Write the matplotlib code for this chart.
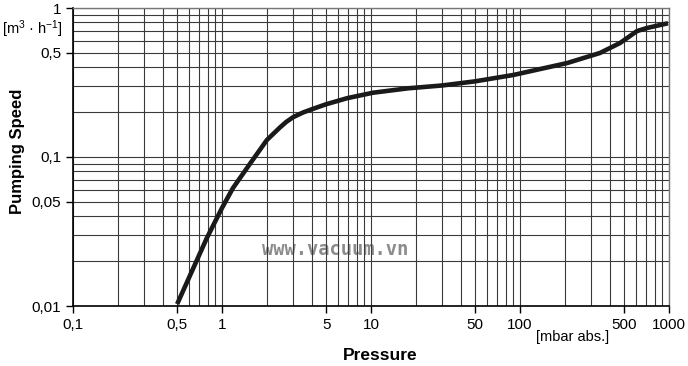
import matplotlib.pyplot as plt
from matplotlib.ticker import FixedLocator, FixedFormatter, LogLocator, NullFormatter

# pressure [mbar abs.] and pumping speed [m3/h]
pressure = [0.5, 0.79, 1.0, 1.185, 1.54, 2.0, 2.45, 2.7, 3.0, 3.5, 4.0, 5.0, 6.9, 10.3,
            17.7, 30, 50, 90, 207, 344, 469, 610, 711, 985]
speed = [0.0103, 0.0285, 0.0455, 0.0619, 0.090, 0.130, 0.158, 0.172, 0.185, 0.199,
         0.209, 0.226, 0.248, 0.270, 0.289, 0.302, 0.322, 0.355, 0.427, 0.499,
         0.582, 0.70, 0.734, 0.79]

x_ticks = [0.1, 0.5, 1, 5, 10, 50, 100, 500, 1000]
x_labels = ["0,1", "0,5", "1", "5", "10", "50", "100", "500", "1000"]
y_ticks = [0.01, 0.05, 0.1, 0.5, 1]
y_labels = ["0,01", "0,05", "0,1", "0,5", "1"]

plt.rcParams['font.family'] = ['Liberation Sans', 'DejaVu Sans']
plt.rcParams['mathtext.default'] = 'regular'

fig = plt.figure(figsize=(6.88, 3.66), dpi=100)
ax = fig.add_axes([73 / 688, 1 - 306 / 366, 596 / 688, 298 / 366])

ax.set_xscale('log')
ax.set_yscale('log')
ax.set_xlim(0.1, 1000)
ax.set_ylim(0.01, 1)

# grid on every 1..9 step of each decade
ax.xaxis.set_minor_locator(LogLocator(base=10, subs=range(1, 10), numticks=20))
ax.yaxis.set_minor_locator(LogLocator(base=10, subs=range(1, 10), numticks=20))
ax.xaxis.set_minor_formatter(NullFormatter())
ax.yaxis.set_minor_formatter(NullFormatter())
ax.grid(True, which='both', color='#3a3a3a', lw=0.8)
ax.tick_params(which='minor', length=0)

ax.xaxis.set_major_locator(FixedLocator(x_ticks))
ax.xaxis.set_major_formatter(FixedFormatter(x_labels))
ax.yaxis.set_major_locator(FixedLocator(y_ticks))
ax.yaxis.set_major_formatter(FixedFormatter(y_labels))
ax.tick_params(which='major', direction='out', length=5, width=1,
               labelsize=11, color='black', pad=3.5)

for side in ['top', 'right']:
    ax.spines[side].set_color('#777777')
    ax.spines[side].set_linewidth(1)
for side in ['left', 'bottom']:
    ax.spines[side].set_linewidth(1.2)

ax.plot(pressure, speed, color='#1a1a1a', lw=3.3, solid_capstyle='butt',
        solid_joinstyle='round', zorder=3)

ax.text(0.44, 0.19, "www.vacuum.vn", transform=ax.transAxes, ha='center', va='center',
        family='DejaVu Sans Mono', fontweight='bold', fontsize=13.5, color='#8c8c8c',
        zorder=1)

fig.text(18 / 688, 1 - 151 / 366, "Pumping Speed", rotation=90, ha='center', va='center',
         fontsize=12, fontweight='bold')
fig.text(380 / 688, 1 - 355 / 366, "Pressure", ha='center', va='center',
         fontsize=12.5, fontweight='bold')
fig.text(63 / 688, 1 - 29 / 366, "[m$^3$ · h$^{-1}$]", ha='right', va='center', fontsize=10.5)
fig.text(573 / 688, 1 - 337 / 366, "[mbar abs.]", ha='center', va='center', fontsize=10.5)

fig.savefig('out.png', dpi=100)
